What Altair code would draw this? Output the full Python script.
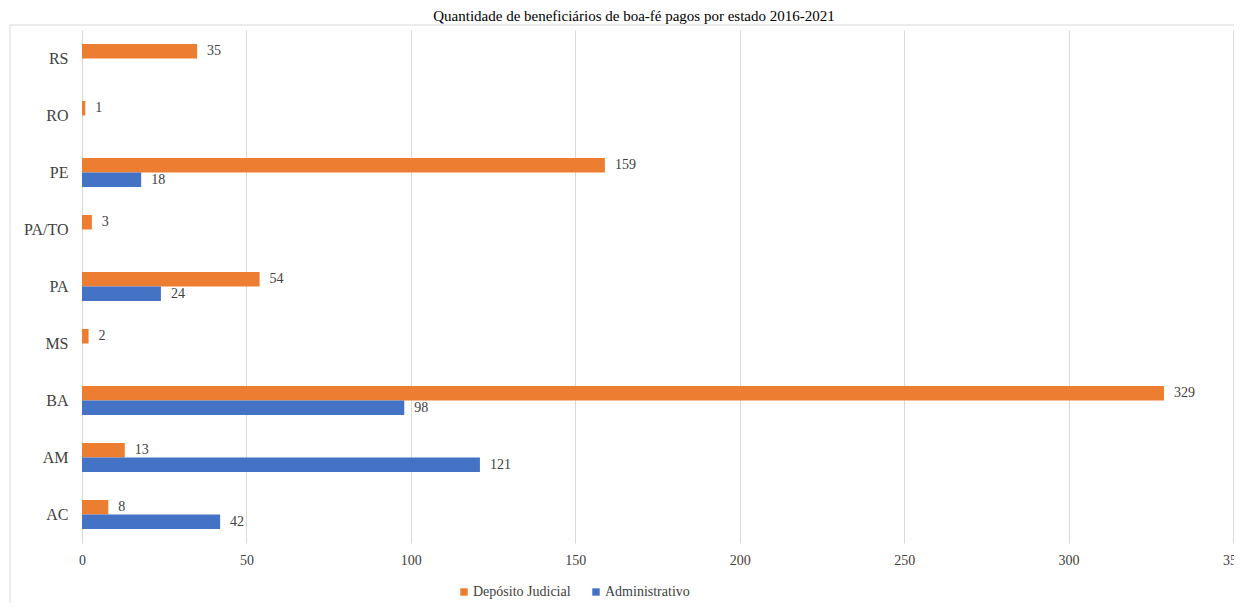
import altair as alt
import pandas as pd

states = ["RS", "RO", "PE", "PA/TO", "PA", "MS", "BA", "AM", "AC"]
deposito = [35, 1, 159, 3, 54, 2, 329, 13, 8]
administrativo = [None, None, 18, None, 24, None, 98, 121, 42]
series_names = ["Depósito Judicial", "Administrativo"]
colors = ["#ED7D31", "#4472C4"]
x_ticks = [0, 50, 100, 150, 200, 250, 300, 350]
title_text = "Quantidade de beneficiários de boa-fé pagos por estado 2016-2021"

rows = []
for s, d, a in zip(states, deposito, administrativo):
    if d is not None:
        rows.append({"estado": s, "serie": series_names[0], "valor": d})
    if a is not None:
        rows.append({"estado": s, "serie": series_names[1], "valor": a})
df = pd.DataFrame(rows)

FONT = "'Times New Roman', 'Liberation Serif', 'DejaVu Serif', serif"

y_enc = alt.Y("estado:N", sort=states, title=None,
              scale=alt.Scale(paddingInner=0.49, paddingOuter=0.245),
              axis=alt.Axis(labelFont=FONT, labelFontSize=16, labelColor="#404040",
                            labelPadding=14, ticks=False, domain=False))
yoff = alt.YOffset("serie:N", sort=series_names)

base = alt.Chart(df)

bars = base.mark_bar().encode(
    x=alt.X("valor:Q", title=None,
            scale=alt.Scale(domain=[0, 350], nice=False),
            axis=alt.Axis(values=x_ticks, labelFont=FONT, labelFontSize=14,
                          labelColor="#404040", labelPadding=10, ticks=False,
                          labelFlush=False, labelBound=False,
                          domain=False, gridColor="#d9d9d9", gridWidth=1)),
    y=y_enc,
    yOffset=yoff,
    color=alt.Color("serie:N", sort=series_names,
                    scale=alt.Scale(domain=series_names, range=colors),
                    legend=alt.Legend(title=None, orient="none", legendX=375, legendY=555,
                                      direction="horizontal", symbolType="square",
                                      symbolSize=55, labelFont=FONT, labelFontSize=14,
                                      labelColor="#404040", columnPadding=18,
                                      labelOffset=2, symbolStrokeWidth=0)),
)

labels = base.mark_text(align="left", baseline="middle", dx=10, font=FONT,
                        fontSize=14, color="#404040").encode(
    x="valor:Q",
    y=alt.Y("estado:N", sort=states),
    yOffset=yoff,
    text="valor:Q",
)

title_df = pd.DataFrame({"t": [title_text]})
title = alt.Chart(title_df).mark_text(align="center", baseline="alphabetic",
                                      font=FONT, fontSize=15, color="#000000").encode(
    text="t:N", x=alt.value(552), y=alt.value(-9))

frame_left = alt.Chart(title_df).mark_rule(color="#d9d9d9", strokeWidth=1).encode(
    x=alt.value(-72), y=alt.value(-5), y2=alt.value(620))
frame_top = alt.Chart(title_df).mark_rule(color="#d9d9d9", strokeWidth=1).encode(
    x=alt.value(-72), x2=alt.value(1200), y=alt.value(-5))

chart = alt.layer(frame_left, frame_top, bars, labels, title).properties(
    width=1151, height=513,
    autosize=alt.AutoSizeParams(type="none"),
    padding={"left": 74, "top": 22, "right": 1, "bottom": 60},
).configure(background="white", font=FONT).configure_view(stroke=None).configure_axis(
    labelFont=FONT).configure_legend(labelFont=FONT).configure_text(font=FONT)

chart.save("out.html", embed_options={"renderer": "svg", "actions": False})
